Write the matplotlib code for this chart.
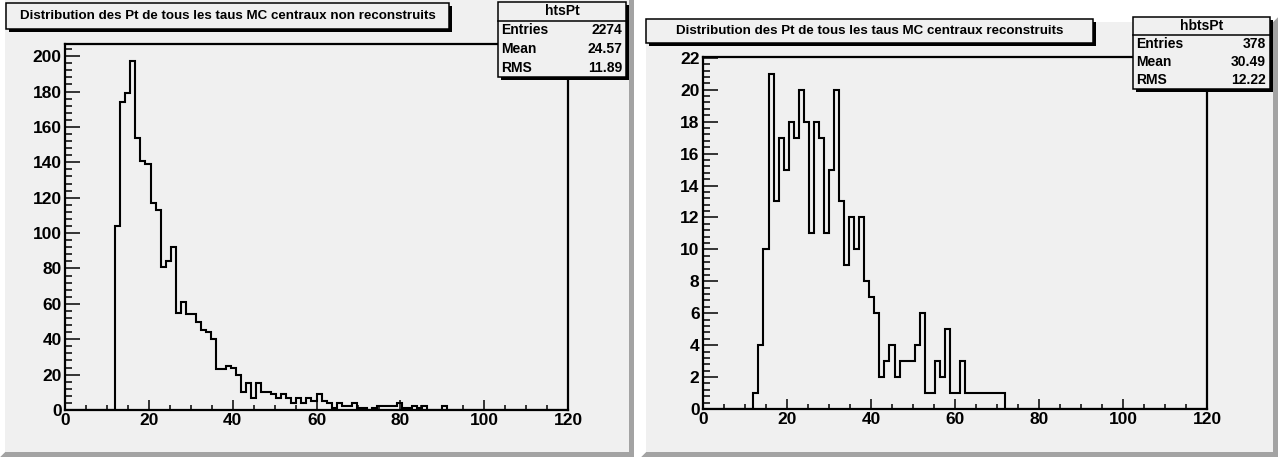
import numpy as np
import matplotlib
matplotlib.use('Agg')
import matplotlib.pyplot as plt
from matplotlib.patches import Rectangle, Polygon
from matplotlib.lines import Line2D

plt.rcParams['font.family'] = ['Liberation Sans', 'DejaVu Sans']
plt.rcParams['font.weight'] = 'bold'

# binning : 100 bins between 0 and 120
edges = np.linspace(0, 120, 101)

# htsPt : Pt des taus MC centraux non reconstruits
hts_counts = [0] * 10 + [
    104, 174, 179, 197, 154, 141, 139, 117, 113, 81,
    84, 92, 55, 61, 54, 54, 50, 45, 44, 40,
    23, 23, 25, 24, 20, 10, 15, 7, 15, 10,
    10, 9, 7, 9, 7, 4, 7, 4, 7, 5,
    9, 5, 4, 1, 4, 2, 2, 4, 1, 1,
    0, 1, 2, 2, 2, 2, 4, 1, 1, 2,
    1, 2, 0, 0, 0, 2,
] + [0] * 24

# hbtsPt : Pt des taus MC centraux reconstruits
hbts_counts = [0] * 10 + [
    1, 4, 10, 21, 13, 17, 15, 18, 17, 20,
    18, 11, 18, 17, 11, 15, 20, 13, 9, 12,
    10, 12, 8, 7, 6, 2, 3, 4, 2, 3,
    3, 3, 4, 6, 1, 1, 3, 2, 5, 1,
    1, 3, 1, 1, 1, 1, 1, 1, 1, 1,
] + [0] * 40

titles = ["Distribution des Pt de tous les taus MC centraux non reconstruits",
          "Distribution des Pt de tous les taus MC centraux reconstruits"]
stat_names = ["htsPt", "hbtsPt"]
stat_labels = ["Entries", "Mean", "RMS"]
stat_values = [["2274", "24.57", "11.89"], ["378", "30.49", "12.22"]]
x_ticks = [0, 20, 40, 60, 80, 100, 120]

W, H = 1278, 457
PAD_COL = '#f0f0f0'

fig = plt.figure(figsize=(W / 100, H / 100), dpi=100)
fig.patch.set_facecolor('white')


def fx(x):
    return x / W


def fy(y):
    return 1 - y / H


def pad(x0, y0, x1, y1, b=5):
    fig.patches.append(Rectangle((fx(x0), fy(y1)), (x1 - x0) / W, (y1 - y0) / H,
                                 transform=fig.transFigure, facecolor=PAD_COL,
                                 edgecolor='none', zorder=-2))
    dark = [(x1, y1), (x1, y0), (x1 - b, y0 + b), (x1 - b, y1 - b), (x0 + b, y1 - b), (x0, y1)]
    fig.patches.append(Polygon([(fx(a), fy(c)) for a, c in dark], closed=True,
                               transform=fig.transFigure, facecolor='#a3a3a3',
                               edgecolor='none', zorder=-1))
    light = [(x0, y0), (x1, y0), (x1 - b, y0 + b), (x0 + b, y0 + b), (x0 + b, y1 - b), (x0, y1)]
    fig.patches.append(Polygon([(fx(a), fy(c)) for a, c in light], closed=True,
                               transform=fig.transFigure, facecolor='white',
                               edgecolor='none', zorder=-1))


def box(x0, y0, x1, y1, s=3):
    # black shadow then the box itself
    fig.patches.append(Rectangle((fx(x0 + s), fy(y1 + s)), (x1 - x0) / W, (y1 - y0) / H,
                                 transform=fig.transFigure, facecolor='black',
                                 edgecolor='none', zorder=5))
    fig.patches.append(Rectangle((fx(x0), fy(y1)), (x1 - x0) / W, (y1 - y0) / H,
                                 transform=fig.transFigure, facecolor=PAD_COL,
                                 edgecolor='black', linewidth=1.1, zorder=6))


def panel(frame, counts, title, tbox, sname, vals, sbox, ymax, ymaj, ymin):
    x0, y0, x1, y1 = frame
    ax = fig.add_axes([fx(x0), fy(y1), (x1 - x0) / W, (y1 - y0) / H])
    ax.set_zorder(1)
    ax.set_facecolor(PAD_COL)
    ax.stairs(counts, edges, color='black', linewidth=1.5, baseline=0)
    ax.set_xlim(0, 120)
    ax.set_ylim(0, ymax)
    ax.set_xticks(x_ticks)
    ax.set_xticklabels([str(t) for t in x_ticks], fontweight='bold', fontsize=12.5)
    ax.set_xticks(np.arange(0, 121, 5), minor=True)
    y_ticks = np.arange(0, ymax, ymaj)
    ax.set_yticks(y_ticks)
    ax.set_yticklabels(['%g' % t for t in y_ticks], fontweight='bold', fontsize=12.5)
    ax.set_yticks(np.arange(0, ymax, ymin), minor=True)
    for sp in ax.spines.values():
        sp.set_linewidth(1.6)
    ax.tick_params(axis='x', which='major', direction='in', length=7.5, width=1.1, pad=2.5)
    ax.tick_params(axis='x', which='minor', direction='in', length=3.8, width=1.1)
    ax.tick_params(axis='y', which='major', direction='in', length=10.5, width=1.1, pad=2.5)
    ax.tick_params(axis='y', which='minor', direction='in', length=5.2, width=1.1)

    bx0, by0, bx1, by1 = tbox
    box(bx0, by0, bx1, by1)
    fig.text(fx((bx0 + bx1) / 2), fy((by0 + by1) / 2), title, ha='center', va='center',
             fontsize=9.6, fontweight='bold', zorder=7)

    sx0, sy0, sx1, sy1 = sbox
    box(sx0, sy0, sx1, sy1)
    row = (sy1 - sy0) / 4
    fig.text(fx((sx0 + sx1) / 2), fy(sy0 + row / 2), sname, ha='center', va='center',
             fontsize=10, fontweight='bold', zorder=7)
    fig.lines.append(Line2D([fx(sx0), fx(sx1)], [fy(sy0 + row), fy(sy0 + row)],
                            transform=fig.transFigure, color='black', linewidth=1.1, zorder=7))
    for i, (lab, v) in enumerate(zip(stat_labels, vals)):
        yc = sy0 + row * (i + 1.5)
        fig.text(fx(sx0 + 3), fy(yc), lab, ha='left', va='center',
                 fontsize=10, fontweight='bold', zorder=7)
        fig.text(fx(sx1 - 4), fy(yc), v, ha='right', va='center',
                 fontsize=10, fontweight='bold', zorder=7)
    return ax


pad(0, -5, 634, 457)
pad(641, 17, 1278, 457)

panel((65, 44, 568, 410), hts_counts, titles[0], (6, 3, 449, 29),
      stat_names[0], stat_values[0], (498, 2, 626, 77),
      max(hts_counts) * 1.05, 20, 4)
panel((703, 57, 1207, 409), hbts_counts, titles[1], (646, 19, 1093, 43),
      stat_names[1], stat_values[1], (1133, 17, 1270, 89),
      max(hbts_counts) * 1.05, 2, 0.4)

fig.savefig('out.png', dpi=100)
